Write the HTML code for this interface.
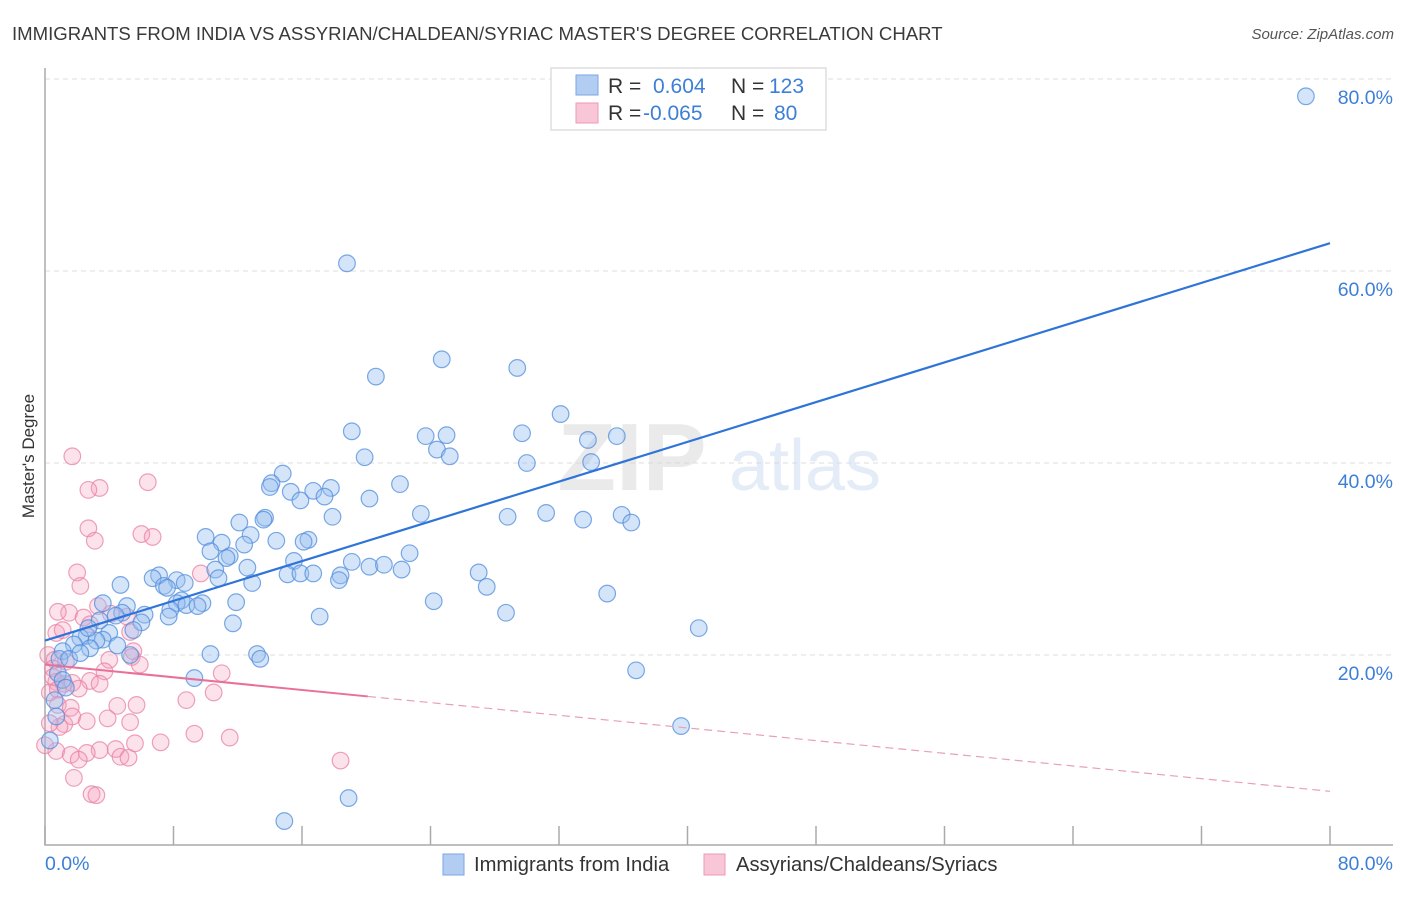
<!DOCTYPE html>
<html><head><meta charset="utf-8">
<style>
body{margin:0;background:#fff;font-family:"Liberation Sans",sans-serif;}
svg text{font-family:"Liberation Sans",sans-serif;}
</style></head>
<body>
<svg id="chart" width="1406" height="892" xmlns="http://www.w3.org/2000/svg">
<text x="12" y="40" font-size="18.6" fill="#3a3a3a">IMMIGRANTS FROM INDIA VS ASSYRIAN/CHALDEAN/SYRIAC MASTER'S DEGREE CORRELATION CHART</text>
<text x="1394" y="39" font-size="15" fill="#555" font-style="italic" text-anchor="end">Source: ZipAtlas.com</text>
<text x="34" y="456" font-size="17" fill="#333" text-anchor="middle" transform="rotate(-90 34 456)">Master's Degree</text>
<g id="grid"></g>
<g opacity="0.5">
<text x="632" y="490" font-size="96" fill="#d6d6d6" text-anchor="middle" font-family="Liberation Serif" font-weight="bold">ZIP</text>
<text x="805" y="490" font-size="72" fill="#c9daf0" text-anchor="middle">atlas</text>
</g>
<g id="axes"></g>
<g id="pts"></g>
<g id="trend"></g>
<g>
<rect x="551" y="68" width="275" height="62" fill="#fff" stroke="#ddd" stroke-width="1.5"/>
<rect x="576" y="75" width="22" height="20" fill="#b3cdf2" stroke="#7aa6e3"/>
<text x="608" y="93" font-size="21" fill="#333">R = </text>
<text x="653" y="93" font-size="21" fill="#3d7fd6">0.604</text>
<text x="731" y="93" font-size="21" fill="#333">N = </text>
<text x="769" y="93" font-size="21" fill="#3d7fd6">123</text>
<rect x="576" y="103" width="22" height="20" fill="#f8c6d6" stroke="#eb9ab5"/>
<text x="608" y="120" font-size="21" fill="#333">R = </text>
<text x="643" y="120" font-size="21" fill="#3d7fd6">-0.065</text>
<text x="731" y="120" font-size="21" fill="#333">N = </text>
<text x="774" y="120" font-size="21" fill="#3d7fd6">80</text>
</g>
<g>
<rect x="443" y="854" width="21" height="21" fill="#b3cdf2" stroke="#7aa6e3"/>
<text x="474" y="871" font-size="20.2" fill="#333">Immigrants from India</text>
<rect x="704" y="854" width="21" height="21" fill="#f8c6d6" stroke="#eb9ab5"/>
<text x="736" y="871" font-size="20.2" fill="#333">Assyrians/Chaldeans/Syriacs</text>
</g>
</svg>
<script>
const blueX=[78.5,18.8,24.7,29.4,20.6,32.1,19.1,23.7,25.0,29.7,33.8,35.6,24.4,25.2,19.9,30.0,34.0,14.8,14.1,14.0,22.1,15.3,16.7,17.8,17.4,15.9,20.2,23.4,28.8,31.2,33.5,35.9,36.5,17.9,13.7,12.1,13.6,10.0,12.8,11.0,14.4,16.4,16.1,10.3,12.4,11.5,11.3,22.7,19.1,15.5,20.2,21.1,22.2,27.0,12.6,10.6,15.1,15.9,16.7,18.4,18.3,12.9,10.8,7.1,6.7,8.2,8.7,7.4,7.6,4.7,27.5,35.0,24.2,11.9,9.8,8.5,8.2,8.8,9.5,7.8,5.1,3.6,4.8,4.4,6.2,7.7,28.7,17.1,11.7,6.0,5.5,4.0,2.6,2.2,3.6,1.8,3.2,1.1,0.9,1.5,40.7,10.3,13.2,13.4,36.8,9.3,4.5,2.8,2.2,0.8,1.1,1.3,0.6,0.7,0.3,39.6,18.9,14.9,5.3,3.4,2.7];
const blueY=[78.2,60.8,50.8,49.9,49.0,45.1,43.3,42.8,42.9,43.1,42.4,42.8,41.4,40.7,40.6,40.0,40.1,38.9,37.9,37.5,37.8,37.0,37.1,37.4,36.5,36.1,36.3,34.7,34.4,34.8,34.1,34.6,33.8,34.4,34.3,33.8,34.1,32.3,32.5,31.7,31.9,32.0,31.8,30.8,31.5,30.3,30.1,30.6,29.7,29.8,29.2,29.4,28.9,28.6,29.1,28.9,28.4,28.5,28.5,28.3,27.8,27.5,28.0,28.3,28.0,27.8,27.5,27.2,27.0,27.3,27.1,26.4,25.6,25.5,25.4,25.7,25.4,25.2,25.1,24.7,25.1,25.4,24.4,24.1,24.2,24.0,24.4,24.0,23.3,23.4,22.6,22.3,22.0,21.8,21.6,21.1,21.5,20.4,19.6,19.6,22.8,20.1,20.1,19.6,18.4,17.6,21.0,20.7,20.2,18.1,17.4,16.6,15.3,13.6,11.1,12.6,5.1,2.7,20.0,23.6,22.8];
const pinkX=[1.7,3.4,2.7,6.4,2.7,6.0,6.7,3.1,2.0,9.7,2.2,3.3,1.5,0.8,2.4,4.1,5.1,0.7,1.1,2.8,5.3,0.2,0.6,1.3,0.5,5.5,5.4,5.9,4.0,3.7,11.0,0.5,0.7,1.2,1.7,2.8,3.4,2.1,0.3,0.8,10.5,8.8,0.8,1.6,4.5,5.7,3.9,5.3,1.2,1.7,0.9,2.6,9.3,11.5,7.2,5.6,4.4,3.4,2.6,0.7,1.6,2.1,4.7,5.2,1.8,2.9,3.2,18.4,0.0,0.3];
const pinkY=[40.7,37.4,37.2,38.0,33.2,32.6,32.3,31.9,28.6,28.5,27.2,25.1,24.4,24.5,23.9,24.3,24.0,22.3,22.6,23.2,22.4,20.0,19.5,19.3,18.6,20.4,19.8,19.0,19.5,18.3,18.1,17.7,17.2,17.0,17.1,17.3,17.0,16.5,16.1,16.4,16.1,15.3,14.8,14.5,14.7,14.8,13.4,13.0,12.8,13.6,12.5,13.1,11.8,11.4,10.9,10.8,10.2,10.1,9.8,10.0,9.6,9.1,9.4,9.3,7.2,5.5,5.4,9.0,10.6,12.9];
const blueTrend=[21.5,62.9];
const pinkTrend=[19.0,5.8];
const pinkSolidEnd=20.1;
const yTicks=[20,40,60,80];
const xTicks=[0,8,16,24,32,40,48,56,64,72,80];

const NS="http://www.w3.org/2000/svg";
const X=v=>45+v*(1285/80);
const Y=v=>847-v*9.6;
function mk(tag,attrs,parent){const e=document.createElementNS(NS,tag);for(const k in attrs)e.setAttribute(k,attrs[k]);parent.appendChild(e);return e;}
const grid=document.getElementById('grid'),axes=document.getElementById('axes'),pts=document.getElementById('pts'),trend=document.getElementById('trend');
yTicks.forEach(t=>{
  const l=mk('line',{x1:45,x2:1393,y1:Y(t),y2:Y(t),stroke:'#ddd','stroke-dasharray':'5,4'},grid);
  
  
  const tx=mk('text',{x:1393,y:Y(t)+25,'font-size':19.5,fill:'#3d7fd6','text-anchor':'end'},grid);
  tx.textContent=t.toFixed(1)+'%';
  
  
});
const ax=mk('path',{d:`M45 68 V845 H1393`,fill:'none',stroke:'#aaa','stroke-width':1.5},axes);


xTicks.forEach(t=>{
  const l=mk('line',{x1:X(t),x2:X(t),y1:826,y2:845,stroke:'#aaa','stroke-width':1.5},axes);
  
  
});
[[0,'start',45],[80,'end',1393]].forEach(([t,a,x])=>{
  const tx=mk('text',{x:x,y:870,'font-size':19.5,fill:'#3d7fd6','text-anchor':a},axes);
  tx.textContent=t.toFixed(1)+'%';
  
  
});
pinkX.forEach((v,i)=>{
  const c=mk('circle',{cx:X(v),cy:Y(pinkY[i]),r:8.3,fill:'rgba(244,160,189,0.3)',stroke:'rgba(232,130,165,0.75)','stroke-width':1.2},pts);
  
  
});
blueX.forEach((v,i)=>{
  const c=mk('circle',{cx:X(v),cy:Y(blueY[i]),r:8.3,fill:'rgba(150,190,240,0.4)',stroke:'rgba(80,140,220,0.75)','stroke-width':1.2},pts);
  
  
});
const bt=mk('line',{x1:X(0),y1:Y(blueTrend[0]),x2:X(80),y2:Y(blueTrend[1]),stroke:'#2f74d8','stroke-width':2.2},trend);


const pAt=x=>pinkTrend[0]+(pinkTrend[1]-pinkTrend[0])*x/80;
const ps=mk('line',{x1:X(0),y1:Y(pinkTrend[0]),x2:X(pinkSolidEnd),y2:Y(pAt(pinkSolidEnd)),stroke:'#e8709a','stroke-width':2},trend);


const pd=mk('line',{x1:X(pinkSolidEnd),y1:Y(pAt(pinkSolidEnd)),x2:X(80),y2:Y(pinkTrend[1]),stroke:'#e8a0b8','stroke-width':1.2,'stroke-dasharray':'8,5'},trend);


</script>
</body></html>
